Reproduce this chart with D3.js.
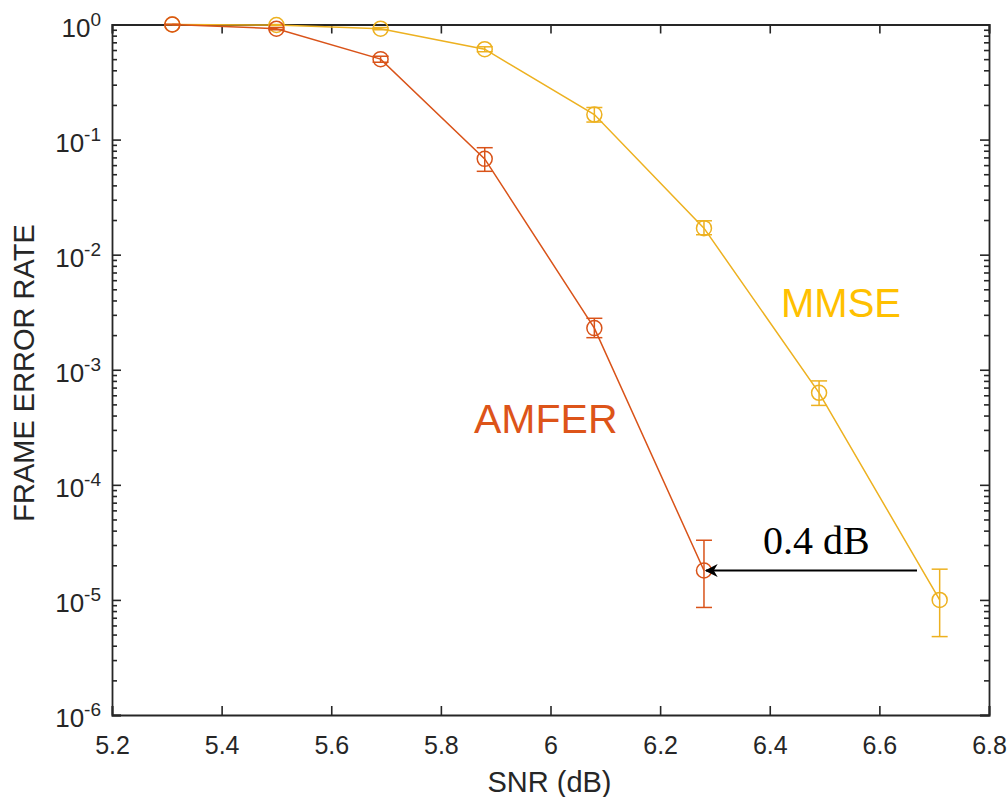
<!DOCTYPE html>
<html>
<head>
<meta charset="utf-8">
<script src="https://cdn.jsdelivr.net/npm/d3@7"></script>
<style>
  body { margin: 0; background: #fff; }
  svg { display: block; }
</style>
</head>
<body>
<svg id="chart" width="1008" height="797"></svg>
<script>
// data
var snr_amfer = [5.31, 5.5, 5.69, 5.88, 6.08, 6.28];
var fer_amfer = [1.0, 0.92, 0.50, 0.068, 0.0023, 1.8e-5];
var lo_amfer = [1.0, 0.90, 0.47, 0.053, 0.0019, 8.6e-6];
var hi_amfer = [1.0, 0.94, 0.53, 0.085, 0.0028, 3.3e-5];

var snr_mmse = [5.31, 5.5, 5.69, 5.88, 6.08, 6.28, 6.49, 6.71];
var fer_mmse = [1.0, 0.99, 0.92, 0.61, 0.165, 0.017, 6.3e-4, 1.0e-5];
var lo_mmse = [1.0, 0.98, 0.90, 0.58, 0.142, 0.0149, 4.9e-4, 4.8e-6];
var hi_mmse = [1.0, 1.0, 0.94, 0.64, 0.19, 0.0197, 8.0e-4, 1.85e-5];

var x_ticks = [5.2, 5.4, 5.6, 5.8, 6, 6.2, 6.4, 6.6, 6.8];
var y_ticks = [1, 1e-1, 1e-2, 1e-3, 1e-4, 1e-5, 1e-6];

var c_amfer = "#D95319", c_mmse = "#EDB120", c_axis = "#262626";
var sans = "'Liberation Sans', Arial, Helvetica, sans-serif";

var svg = d3.select("#chart");
var m_left = 112, m_right = 989, m_top = 24.5, m_bottom = 715;

var x = d3.scaleLinear().domain([5.2, 6.8]).range([m_left, m_right]);
var y = d3.scaleLog().domain([1e-6, 1]).range([m_bottom, m_top]);

// minor ticks for log axis
var minor = [];
for (var e = -6; e < 0; e++)
    for (var k = 2; k <= 9; k++) minor.push(k * Math.pow(10, e));

var g = svg.append("g");

// axes
var xb = d3.axisBottom(x).tickValues(x_ticks).tickSize(-9)
    .tickFormat(function (d) { return String(+d.toFixed(1)); });
var xt = d3.axisTop(x).tickValues(x_ticks).tickSize(-9).tickFormat("");
var yl = d3.axisLeft(y).tickValues(y_ticks).tickSize(-9).tickFormat("");
var yr = d3.axisRight(y).tickValues(y_ticks).tickSize(-9).tickFormat("");
var ylm = d3.axisLeft(y).tickValues(minor).tickSize(-5).tickFormat("");
var yrm = d3.axisRight(y).tickValues(minor).tickSize(-5).tickFormat("");

function styleAxis(sel) {
    sel.attr("font-family", sans).attr("font-size", 25);
    sel.selectAll("path").attr("stroke", c_axis).attr("stroke-width", 1.8);
    sel.selectAll("line").attr("stroke", c_axis).attr("stroke-width", 1.6);
    sel.selectAll("text").attr("fill", c_axis).attr("dy", null).attr("y", 39);
}

g.append("g").attr("transform", "translate(0," + m_bottom + ")").call(xb).call(styleAxis);
g.append("g").attr("transform", "translate(0," + m_top + ")").call(xt).call(styleAxis);
g.append("g").attr("transform", "translate(" + m_left + ",0)").call(yl).call(styleAxis);
g.append("g").attr("transform", "translate(" + m_right + ",0)").call(yr).call(styleAxis);
g.append("g").attr("transform", "translate(" + m_left + ",0)").call(ylm).call(styleAxis)
    .select(".domain").remove();
g.append("g").attr("transform", "translate(" + m_right + ",0)").call(yrm).call(styleAxis)
    .select(".domain").remove();

// y tick labels with superscripts
var ylab = g.append("g").selectAll("text").data(y_ticks).enter().append("text")
    .attr("x", m_left - 11)
    .attr("y", function (d) { return y(d) + 12; })
    .attr("text-anchor", "end")
    .attr("fill", c_axis)
    .attr("font-family", sans)
    .attr("font-size", 26);
ylab.append("tspan").text("10");
ylab.append("tspan").attr("dy", -11).attr("font-size", 19)
    .text(function (d) { var p = Math.round(Math.log10(d)); return p === 0 ? "0" : "-" + (-p); });

// axis titles
svg.append("text").attr("x", (m_left + m_right) / 2 - 1).attr("y", 792)
    .attr("text-anchor", "middle").attr("fill", c_axis)
    .attr("font-family", sans)
    .attr("font-size", 29).text("SNR (dB)");
svg.append("text").attr("transform", "translate(34,373) rotate(-90)")
    .attr("text-anchor", "middle").attr("fill", c_axis)
    .attr("font-family", sans)
    .attr("font-size", 29).text("FRAME ERROR RATE");

function series(xs, ys, lo, hi, color) {
    var pts = xs.map(function (v, i) { return {x: v, y: ys[i], lo: lo[i], hi: hi[i]}; });
    var s = g.append("g");
    s.append("path").datum(pts)
        .attr("d", d3.line().x(function (d) { return x(d.x); }).y(function (d) { return y(d.y); }))
        .attr("fill", "none").attr("stroke", color).attr("stroke-width", 1.5);
    var eb = s.selectAll("g.eb").data(pts).enter().append("g").attr("class", "eb");
    eb.append("line")
        .attr("x1", function (d) { return x(d.x); }).attr("x2", function (d) { return x(d.x); })
        .attr("y1", function (d) { return y(d.lo); }).attr("y2", function (d) { return y(d.hi); });
    eb.append("line")
        .attr("x1", function (d) { return x(d.x) - 8; }).attr("x2", function (d) { return x(d.x) + 8; })
        .attr("y1", function (d) { return y(d.lo); }).attr("y2", function (d) { return y(d.lo); });
    eb.append("line")
        .attr("x1", function (d) { return x(d.x) - 8; }).attr("x2", function (d) { return x(d.x) + 8; })
        .attr("y1", function (d) { return y(d.hi); }).attr("y2", function (d) { return y(d.hi); });
    eb.selectAll("line").attr("stroke", color).attr("stroke-width", 1.5);
    s.selectAll("circle").data(pts).enter().append("circle")
        .attr("cx", function (d) { return x(d.x); })
        .attr("cy", function (d) { return y(d.y); })
        .attr("r", 7.5).attr("fill", "none").attr("stroke", color).attr("stroke-width", 1.5);
}

series(snr_mmse, fer_mmse, lo_mmse, hi_mmse, c_mmse);
series(snr_amfer, fer_amfer, lo_amfer, hi_amfer, c_amfer);

// labels
svg.append("text").attr("x", 781).attr("y", 317).attr("fill", "#FFC000")
    .attr("font-family", sans)
    .attr("font-size", 40).text("MMSE");
svg.append("text").attr("x", 474).attr("y", 433).attr("fill", "#DD5419")
    .attr("font-family", sans)
    .attr("font-size", 41).text("AMFER");

// arrow annotation
svg.append("defs").append("marker").attr("id", "arr")
    .attr("viewBox", "0 0 10 10").attr("refX", 9).attr("refY", 5)
    .attr("markerWidth", 13).attr("markerHeight", 13).attr("orient", "auto")
    .attr("markerUnits", "userSpaceOnUse")
    .append("path").attr("d", "M0,0 L10,5 L0,10 L3,5 Z").attr("fill", "#000");
var ay = y(fer_amfer[5]);
svg.append("line").attr("x1", 917).attr("x2", x(snr_amfer[5]) + 2)
    .attr("y1", ay).attr("y2", ay)
    .attr("stroke", "#000").attr("stroke-width", 2)
    .attr("marker-end", "url(#arr)");
svg.append("text").attr("x", 763).attr("y", 554).attr("fill", "#000")
    .attr("font-family", "'Liberation Serif', 'DejaVu Serif', serif")
    .attr("font-size", 40).text("0.4 dB");
</script>
</body>
</html>
